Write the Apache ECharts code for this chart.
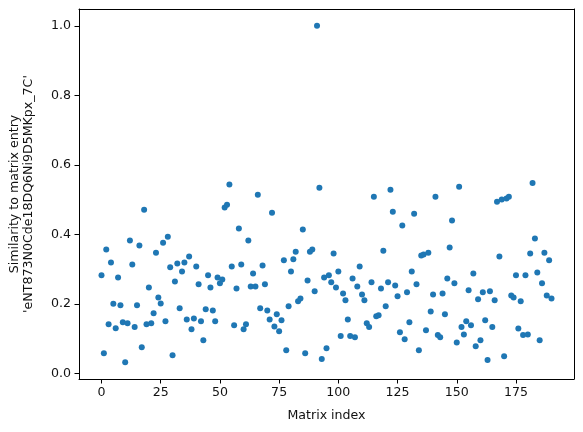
<!DOCTYPE html>
<html>
<head>
<meta charset="utf-8">
<script src="https://cdn.jsdelivr.net/npm/echarts@6/dist/echarts.min.js"></script>
<style>html,body{margin:0;padding:0;background:#fff;}#c{width:583px;height:432px;}</style>
</head>
<body>
<div id="c"></div>
<script>
const similarity = [
0.282,0.058,0.356,0.141,0.319,0.200,0.130,0.276,0.196,0.147,
0.032,0.144,0.382,0.313,0.133,0.196,0.368,0.075,0.471,0.141,
0.247,0.144,0.173,0.347,0.218,0.201,0.376,0.150,0.393,0.305,
0.052,0.264,0.316,0.187,0.293,0.319,0.155,0.336,0.127,0.158,
0.307,0.256,0.150,0.095,0.184,0.282,0.247,0.181,0.150,0.276,
0.259,0.270,0.477,0.485,0.543,0.307,0.138,0.244,0.417,0.313,
0.127,0.141,0.382,0.250,0.287,0.250,0.514,0.187,0.310,0.256,
0.181,0.155,0.462,0.135,0.170,0.121,0.153,0.325,0.066,0.193,
0.293,0.328,0.350,0.207,0.215,0.414,0.058,0.267,0.350,0.356,
0.236,1.000,0.534,0.041,0.276,0.072,0.282,0.262,0.345,0.247,
0.293,0.107,0.230,0.210,0.155,0.107,0.273,0.104,0.250,0.307,
0.227,0.210,0.144,0.133,0.262,0.508,0.164,0.167,0.244,0.353,
0.193,0.262,0.528,0.465,0.253,0.222,0.118,0.425,0.098,0.233,
0.147,0.293,0.459,0.256,0.066,0.339,0.342,0.124,0.347,0.178,
0.227,0.508,0.110,0.104,0.230,0.170,0.273,0.362,0.440,0.259,
0.089,0.537,0.133,0.112,0.150,0.239,0.138,0.287,0.078,0.213,
0.095,0.233,0.153,0.038,0.236,0.133,0.210,0.494,0.336,0.500,
0.049,0.503,0.508,0.224,0.218,0.282,0.129,0.207,0.110,0.282,
0.112,0.345,0.548,0.388,0.290,0.095,0.259,0.347,0.224,0.325,
0.215
];
const xTicks = [0, 25, 50, 75, 100, 125, 150, 175];
const yTicks = [0.0, 0.2, 0.4, 0.6, 0.8, 1.0];
const xTitle = 'Matrix index';
const yTitle = "Similarity to matrix entry\n'eNT873N0Cde18DQ6Ni9D5MKpx_7C'";

const points = similarity.map((v, i) => [i, v]);
const font = 'DejaVu Sans';
const frameLine = {show: true, onZero: false, lineStyle: {color: '#000', width: 1}};
const chart = echarts.init(document.getElementById('c'), null, {renderer: 'canvas'});
chart.setOption({
  animation: false,
  backgroundColor: '#fff',
  grid: {left: 79, top: 9, right: 9, bottom: 53, outerBoundsMode: 'none', containLabel: false},
  xAxis: [{
    type: 'value', min: -9.5, max: 199.5, position: 'bottom',
    axisLine: frameLine,
    splitLine: {show: false},
    axisTick: {show: true, inside: false, length: 4.5, lineStyle: {color: '#000', width: 1}, customValues: xTicks},
    axisLabel: {customValues: xTicks, color: '#111', fontFamily: font, fontSize: 12.6, margin: 7},
    name: xTitle, nameLocation: 'middle', nameGap: 30,
    nameTextStyle: {color: '#111', fontFamily: font, fontSize: 12.6}
  }, {
    type: 'value', min: -9.5, max: 199.5, position: 'top',
    axisLine: frameLine, axisTick: {show: false}, axisLabel: {show: false}, splitLine: {show: false}
  }],
  yAxis: [{
    type: 'value', min: -0.0164, max: 1.0484, position: 'left',
    axisLine: frameLine,
    splitLine: {show: false},
    axisTick: {show: true, inside: false, length: 4.5, lineStyle: {color: '#000', width: 1}, customValues: yTicks},
    axisLabel: {customValues: yTicks, formatter: v => v.toFixed(1), color: '#111', fontFamily: font, fontSize: 12.6, margin: 8},
    name: yTitle, nameLocation: 'middle', nameGap: 43, nameRotate: 90,
    nameTextStyle: {color: '#111', fontFamily: font, fontSize: 12.6, lineHeight: 14, align: 'center'}
  }, {
    type: 'value', min: -0.0164, max: 1.0484, position: 'right',
    axisLine: frameLine, axisTick: {show: false}, axisLabel: {show: false}, splitLine: {show: false}
  }],
  series: [{
    type: 'scatter',
    xAxisIndex: 0, yAxisIndex: 0,
    data: points,
    symbol: 'circle',
    symbolSize: 6,
    itemStyle: {color: '#1f77b4', opacity: 1}
  }]
});
</script>
</body>
</html>
